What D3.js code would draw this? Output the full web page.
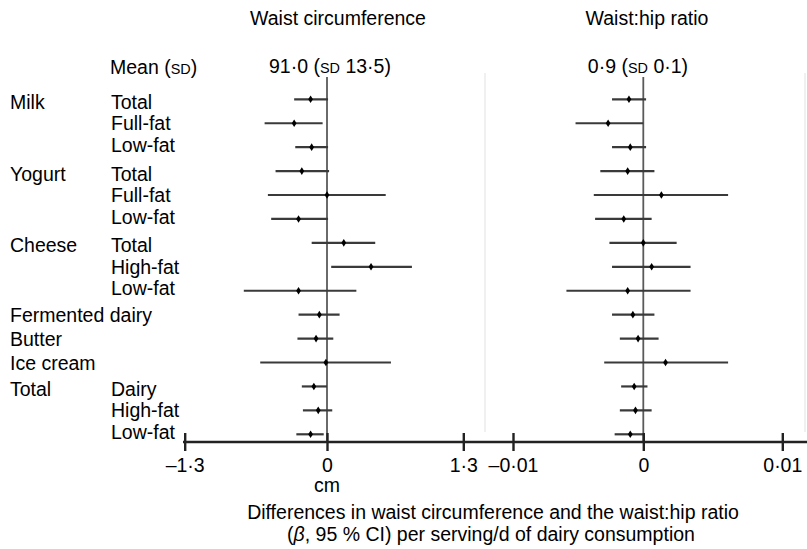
<!DOCTYPE html>
<html>
<head>
<meta charset="utf-8">
<script src="https://cdn.jsdelivr.net/npm/d3@7/dist/d3.min.js"></script>
<style>
  html, body { margin: 0; padding: 0; background: #fff; }
  svg text { font-family: "Liberation Sans", Arial, Helvetica, sans-serif; fill: #000; }
</style>
</head>
<body>
<svg id="chart" width="807" height="549"></svg>
<script>
// ---- data ----
const groupLabels = ["Milk", "", "", "Yogurt", "", "", "Cheese", "", "", "Fermented dairy", "Butter", "Ice cream", "Total", "", ""];
const subLabels   = ["Total", "Full-fat", "Low-fat", "Total", "Full-fat", "Low-fat", "Total", "High-fat", "Low-fat", "", "", "", "Dairy", "High-fat", "Low-fat"];

const waistEst = [-0.15, -0.30, -0.14, -0.23, 0.00, -0.26, 0.16, 0.42, -0.26, -0.07, -0.10, -0.01, -0.12, -0.08, -0.15];
const waistLo  = [-0.30, -0.57, -0.29, -0.47, -0.54, -0.51, -0.14, 0.04, -0.76, -0.26, -0.27, -0.61, -0.23, -0.22, -0.28];
const waistHi  = [0.01, -0.04, 0.01, 0.02, 0.56, 0.01, 0.46, 0.81, 0.28, 0.12, 0.06, 0.61, 0.00, 0.05, -0.03];

const whrEst = [-0.0011, -0.0027, -0.0010, -0.0012, 0.0013, -0.0015, 0.0000, 0.0006, -0.0012, -0.0008, -0.0004, 0.0016, -0.0007, -0.0006, -0.0010];
const whrLo  = [-0.0024, -0.0052, -0.0024, -0.0033, -0.0038, -0.0037, -0.0026, -0.0024, -0.0059, -0.0024, -0.0018, -0.0030, -0.0017, -0.0018, -0.0022];
const whrHi  = [0.0002, 0.0000, 0.0002, 0.0008, 0.0061, 0.0006, 0.0024, 0.0034, 0.0034, 0.0008, 0.0011, 0.0061, 0.0003, 0.0006, 0.0000];

const waistTicks = [-1.3, 0, 1.3];
const waistTickLabels = ["\u20131\u00b73", "0", "1\u00b73"];
const whrTicks = [-0.01, 0, 0.01];
const whrTickLabels = ["\u20130\u00b701", "0", "0\u00b701"];

const panelTitles = ["Waist circumference", "Waist:hip ratio"];
const meanValues = [["91\u00b70 (", "SD", " 13\u00b75)"], ["0\u00b79 (", "SD", " 0\u00b71)"]];

// ---- layout ----
const svg = d3.select("#chart");
const FS = 19.5;
const axisY = 442;
const topY = 77;

const y = d3.scalePoint().domain(d3.range(groupLabels.length)).range([99.3, 434.3]);

const xWaist = d3.scaleLinear().domain([-1.3, 0, 1.3]).range([184.7, 327, 463.3]);
const xWhr = d3.scaleLinear().domain([-0.01, 0, 0.01]).range([513, 643.3, 782.3]);

// light separators
[485, 805].forEach(sx => {
  svg.append("line").attr("x1", sx).attr("x2", sx).attr("y1", 73).attr("y2", 432)
    .attr("stroke", "#ebebeb").attr("stroke-width", 1.5);
});

// row labels (sub-labels compressed within multi-row groups)
const labelY = new Array(groupLabels.length);
let i = 0;
while (i < groupLabels.length) {
  let j = i + 1;
  while (j < groupLabels.length && groupLabels[j] === "") j++;
  const n = j - i;
  const mid = (y(i) + y(j - 1)) / 2;
  for (let k = 0; k < n; k++) labelY[i + k] = n > 1 ? mid + (k - (n - 1) / 2) * 21.5 : y(i + k);
  i = j;
}

svg.append("g").selectAll("text").data(groupLabels).join("text")
  .attr("x", 10).attr("y", (d, k) => labelY[k]).attr("dy", "0.36em")
  .attr("font-size", FS).text(d => d);
svg.append("g").selectAll("text").data(subLabels).join("text")
  .attr("x", 111).attr("y", (d, k) => labelY[k]).attr("dy", "0.36em")
  .attr("font-size", FS).text(d => d);

// header "Mean (SD)"
const mh = svg.append("text").attr("x", 110).attr("y", 74).attr("font-size", FS);
mh.append("tspan").text("Mean (");
mh.append("tspan").attr("font-size", FS * 0.74).text("SD");
mh.append("tspan").text(")");

const panels = [
  { x: xWaist, est: waistEst, lo: waistLo, hi: waistHi, ticks: waistTicks, tickLabels: waistTickLabels, titleX: 338, meanX: 330 },
  { x: xWhr, est: whrEst, lo: whrLo, hi: whrHi, ticks: whrTicks, tickLabels: whrTickLabels, titleX: 647, meanX: 638 }
];

panels.forEach((p, pi) => {
  const g = svg.append("g");
  g.append("text").attr("x", p.titleX).attr("y", 25).attr("text-anchor", "middle")
    .attr("font-size", FS).text(panelTitles[pi]);
  const mt = g.append("text").attr("x", p.meanX).attr("y", 73).attr("text-anchor", "middle").attr("font-size", FS);
  mt.append("tspan").text(meanValues[pi][0]);
  mt.append("tspan").attr("font-size", FS * 0.74).text(meanValues[pi][1]);
  mt.append("tspan").text(meanValues[pi][2]);

  // zero reference line
  g.append("line").attr("x1", p.x(0)).attr("x2", p.x(0)).attr("y1", topY).attr("y2", axisY)
    .attr("stroke", "#5a5a5a").attr("stroke-width", 1.8);

  // CIs
  g.append("g").selectAll("line").data(p.est).join("line")
    .attr("x1", (d, k) => p.x(p.lo[k])).attr("x2", (d, k) => p.x(p.hi[k]))
    .attr("y1", (d, k) => y(k)).attr("y2", (d, k) => y(k))
    .attr("stroke", "#3a3a3a").attr("stroke-width", 2.2);
  // points
  g.append("g").selectAll("path").data(p.est).join("path")
    .attr("d", "M0,-3.8L2.4,0L0,3.8L-2.4,0Z")
    .attr("transform", (d, k) => `translate(${p.x(d)},${y(k)})`)
    .attr("fill", "#000");

  // axis
  const ax = d3.axisBottom(p.x).tickValues(p.ticks).tickSize(8)
    .tickFormat((d, k) => p.tickLabels[k]);
  const ag = g.append("g").attr("transform", `translate(0,${axisY})`).call(ax);
  ag.select(".domain").remove();
  ag.selectAll(".tick line").attr("y1", -9).attr("y2", 9).attr("stroke", "#222").attr("stroke-width", 2.4);
  ag.selectAll(".tick text").attr("font-size", FS).attr("font-family", '"Liberation Sans", Arial, sans-serif')
    .attr("fill", "#000").attr("y", 30).attr("dy", 0);
});

// continuous axis line
svg.append("line").attr("x1", 183).attr("x2", 807).attr("y1", axisY).attr("y2", axisY)
  .attr("stroke", "#222").attr("stroke-width", 2.4);

// axis unit and title
svg.append("text").attr("x", xWaist(0)).attr("y", 492).attr("text-anchor", "middle").attr("font-size", FS).text("cm");
svg.append("text").attr("x", 493).attr("y", 518.5).attr("text-anchor", "middle").attr("font-size", FS)
  .text("Differences in waist circumference and the waist:hip ratio");
const t2 = svg.append("text").attr("x", 491).attr("y", 540.5).attr("text-anchor", "middle").attr("font-size", FS);
t2.append("tspan").text("(");
t2.append("tspan").attr("font-style", "italic").text("\u03b2");
t2.append("tspan").text(", 95 % CI) per serving/d of dairy consumption");
</script>
</body>
</html>
